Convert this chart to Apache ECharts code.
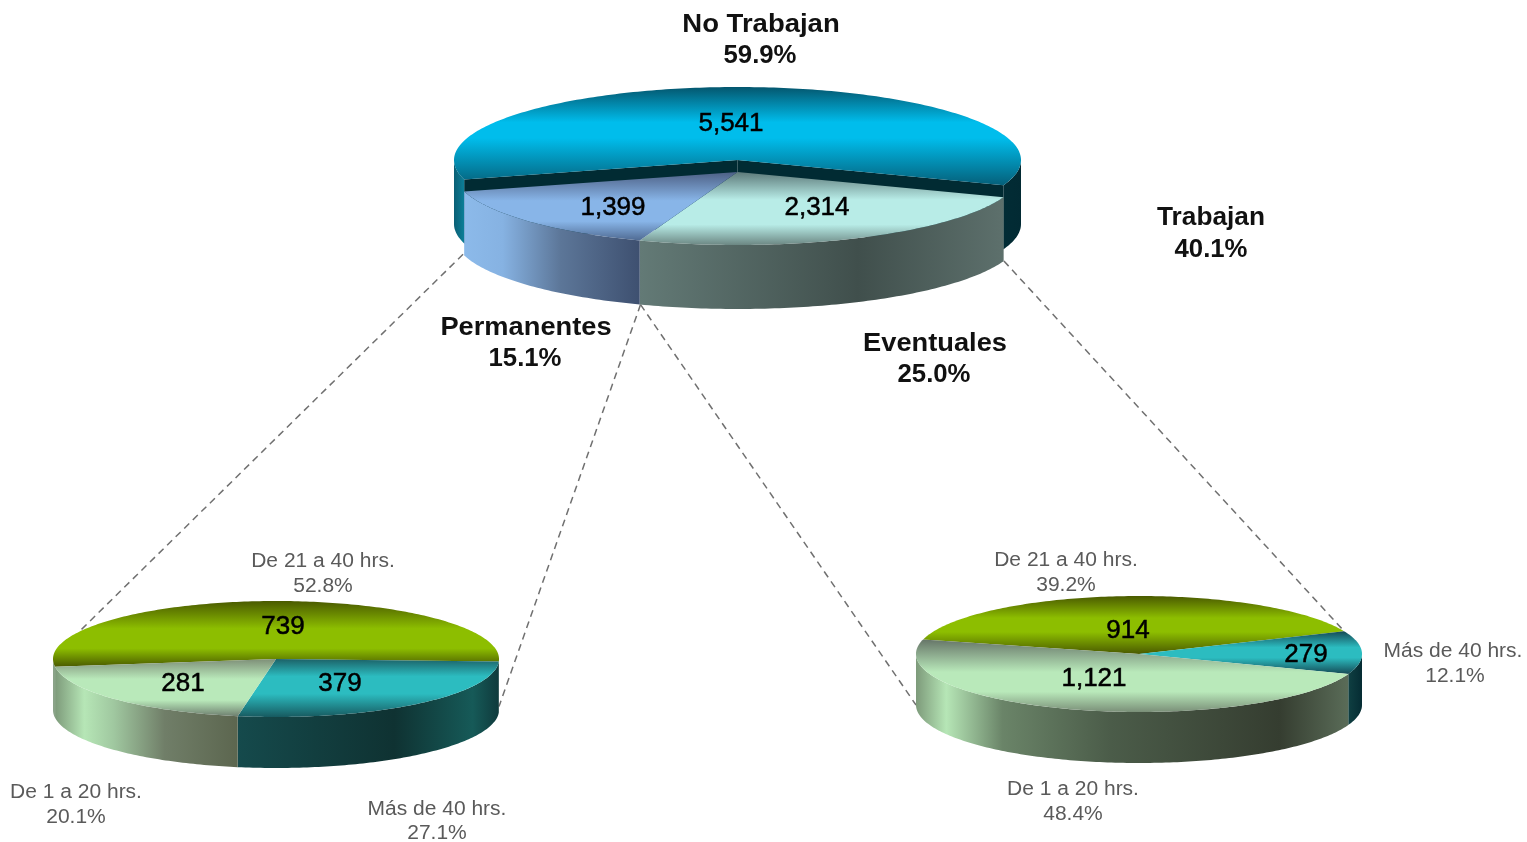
<!DOCTYPE html>
<html><head><meta charset="utf-8">
<style>html,body{margin:0;padding:0;background:#fff}#c{width:1527px;height:842px}</style>
<script src="https://cdn.jsdelivr.net/npm/echarts@6/dist/echarts.min.js"></script>
</head><body><div id="c"></div>
<script>
// ---- data ----
const mainCategories = ['No Trabajan', 'Eventuales', 'Permanentes'];
const mainValues = [5541, 2314, 1399];
const permCategories = ['De 21 a 40 hrs.', 'Más de 40 hrs.', 'De 1 a 20 hrs.'];
const permValues = [739, 379, 281];
const eventCategories = ['De 21 a 40 hrs.', 'Más de 40 hrs.', 'De 1 a 20 hrs.'];
const eventValues = [914, 279, 1121];
const percentTexts = ['59.9%', '40.1%', '15.1%', '25.0%', '52.8%', '20.1%', '27.1%', '39.2%', '12.1%', '48.4%'];
const headingTexts = ['No Trabajan', 'Trabajan', 'Permanentes', 'Eventuales', 'De 21 a 40 hrs.', 'De 1 a 20 hrs.', 'Más de 40 hrs.', 'De 21 a 40 hrs.', 'Más de 40 hrs.', 'De 1 a 20 hrs.'];

// ---- layout and style ----
const FONT = '"Liberation Sans", Arial, sans-serif';
const bevel = (d, m, e, a, b) => [[0, d], [a, m], [b, m], [1, e]];
const pieLayouts = [
  { cx: 737.5, cy: 172, rx: 283.5, ry: 73, depth: 64, start: 164.6,
    explode: [-12],
    valuePos: [[731, 124], [817, 208], [613, 208]],
    styles: [
      { top: bevel('#04566e', '#00bdec', '#05607a', .36, .52),
        walls: [[[0, '#0a5f75'], [1, '#0c7f98']], [[0, '#022c35'], [1, '#022a33']]], face: '#012b33' },
      { top: bevel('#5d7a7a', '#b8ece7', '#6c8783', .38, .72),
        wall: [[0, '#637a76'], [.6, '#404f4c'], [1, '#5d706c']] },
      { top: bevel('#4d6085', '#88b5e8', '#4f6a92', .42, .72),
        wall: [[0, '#8cbaea'], [.22, '#86b2e2'], [.55, '#5c7698'], [1, '#3e5070']] }
    ] },
  { cx: 276, cy: 659, rx: 223, ry: 58, depth: 51, start: 172.2,
    valuePos: [[283, 627], [340, 684], [183, 684]],
    styles: [
      { top: bevel('#4a5a00', '#8dbe00', '#4a5a00', .42, .72), wall: [[0, '#8aa388'], [1, '#8aa388']] },
      { top: bevel('#1c6268', '#2cbcc0', '#175a60', .3, .6),
        wall: [[0, '#154a4c'], [.6, '#0f3232'], [.9, '#165a58'], [1, '#0f3a3c']] },
      { top: bevel('#7e8f78', '#b9e9ba', '#6f8070', .35, .72),
        wall: [[0, '#7d9a7a'], [.16, '#b6e6b6'], [.32, '#a0c8a0'], [.6, '#707e68'], [1, '#5c664f']] }
    ] },
  { cx: 1139, cy: 654, rx: 223, ry: 58, depth: 51, start: 194.6,
    valuePos: [[1128, 631], [1306, 655], [1094, 679]],
    styles: [
      { top: bevel('#4a5a00', '#8dbe00', '#4a5a00', .38, .62), wall: [[0, '#4a5a00'], [1, '#4a5a00']] },
      { top: bevel('#154a55', '#2cbcc0', '#154a55', .38, .62), wall: [[0, '#0f3f42'], [1, '#052c33']] },
      { top: bevel('#667568', '#b9e9ba', '#7a8f78', .45, .72),
        wall: [[0, '#7d9a7a'], [.07, '#b6e6b6'], [.2, '#6a8468'], [.45, '#4b5c49'], [.84, '#353d30'], [1, '#5a6c58']] }
    ] }
];
const numberFont = { fontSize: 26, fontFamily: FONT, fontWeight: 'normal' };
const labelLayouts = [
  { p: [761, 25], q: [760, 56], bold: 1, sx: 1.1 }, { p: [1211, 218], q: [1211, 250], bold: 1, sx: 1.05 },
  { p: [526, 328], q: [525, 359], bold: 1, sx: 1.09 }, { p: [935, 344], q: [934, 375], bold: 1, sx: 1.09 },
  { p: [323, 561], q: [323, 586] }, { p: [76, 792], q: [76, 817] }, { p: [437, 809], q: [437, 833] },
  { p: [1066, 560], q: [1066, 585] }, { p: [1453, 651], q: [1455, 676] }, { p: [1073, 789], q: [1073, 814] }
];
// connector: from [pie, angle, depth] to [pie, angle, depth]
const connectors = [
  [[0, 165.5, 1], [1, 208, 0]],
  [[0, 110, 1], [1, 0, .93]],
  [[0, 110, 1], [2, 180, 1]],
  [[0, 20, 1], [2, 337, 0]]
];

const rad = d => d * Math.PI / 180;
function pt(L, a, depthPx, dy) {
  return [L.cx + L.rx * Math.cos(rad(a)), L.cy + (dy || 0) + depthPx + L.ry * Math.sin(rad(a))];
}
function arc(L, a1, a2, depthPx, dy) {
  const out = [], n = Math.max(2, Math.ceil(Math.abs(a2 - a1)));
  for (let i = 0; i <= n; i++) out.push(pt(L, a1 + (a2 - a1) * i / n, depthPx, dy));
  return out;
}
const stopsOf = a => a.map(t => ({ offset: t[0], color: t[1] }));
function renderPie(idx, values) {
  const L = pieLayouts[idx];
  const total = values.reduce((a, b) => a + b, 0);
  return function (params, api) {
    const i = params.dataIndex;
    let a1 = L.start;
    for (let k = 0; k < i; k++) a1 += values[k] / total * 360;
    const a2 = a1 + values[i] / total * 360;
    const S = L.styles[i];
    const dy = (L.explode && L.explode[i]) || 0;
    const toPx = pts => pts.map(p => api.coord(p));
    const ch = [];
    if (S.face) {
      const c0 = [L.cx, L.cy + dy], c1 = [L.cx, L.cy + dy + L.depth];
      [a1, a2].forEach(a => ch.push({ type: 'polygon',
        shape: { points: toPx([c0, c1, pt(L, a, L.depth, dy), pt(L, a, 0, dy)]) },
        style: { fill: S.face } }));
    }
    let w = 0;
    [[0, 180], [360, 540]].forEach(([lo, hi]) => {
      const s = Math.max(a1, lo), e = Math.min(a2, hi);
      if (e > s) {
        const stops = S.walls ? S.walls[w++] : S.wall;
        const pts = arc(L, s, e, 0, dy).concat(arc(L, e, s, L.depth, dy));
        ch.push({ type: 'polygon', shape: { points: toPx(pts) },
          style: { fill: new echarts.graphic.LinearGradient(0, 0, 1, 0, stopsOf(stops)) } });
      }
    });
    const c = [L.cx, L.cy + dy];
    ch.push({ type: 'polygon', shape: { points: toPx([c].concat(arc(L, a1, a2, 0, dy))) },
      style: { fill: new echarts.graphic.LinearGradient(0, 0, 0, 1, stopsOf(S.top)) } });
    return { type: 'group', children: ch };
  };
}

function pieSeries(idx, cats, values) {
  return { type: 'custom', coordinateSystem: 'cartesian2d', clip: false, silent: true, z: 3,
    data: cats.map((n, i) => ({ name: n, value: [0, 0, values[i]] })),
    encode: { x: 0, y: 1 },
    renderItem: renderPie(idx, values) };
}
const fmt = v => v.toLocaleString('en-US');
function valueSeries(idx, values) {
  const L = pieLayouts[idx];
  return { type: 'custom', coordinateSystem: 'cartesian2d', clip: false, silent: true, z: 5,
    data: values.map(v => ({ value: [0, 0, v] })), encode: { x: 0, y: 1 },
    renderItem(params, api) {
      const p = api.coord(L.valuePos[params.dataIndex]);
      return { type: 'text', x: p[0], y: p[1], style: Object.assign({
        text: fmt(values[params.dataIndex]), align: 'center', verticalAlign: 'middle',
        fill: '#000', stroke: '#000', lineWidth: .5 }, numberFont) };
    } };
}
const connectorSeries = { type: 'custom', coordinateSystem: 'cartesian2d', clip: false, silent: true, z: 2,
  data: connectors.map(() => ({ value: [0, 0] })), encode: { x: 0, y: 1 },
  renderItem(params, api) {
    const [f, t] = connectors[params.dataIndex];
    const Lf = pieLayouts[f[0]], Lt = pieLayouts[t[0]];
    const a = api.coord(pt(Lf, f[1], f[2] * Lf.depth)), b = api.coord(pt(Lt, t[1], t[2] * Lt.depth));
    return { type: 'line', shape: { x1: a[0], y1: a[1], x2: b[0], y2: b[1] },
      style: { stroke: '#707070', lineWidth: 1.5, lineDash: [7, 5] } };
  } };
const labelSeries = { type: 'custom', coordinateSystem: 'cartesian2d', clip: false, silent: true, z: 6,
  data: headingTexts.map(() => ({ value: [0, 0] })), encode: { x: 0, y: 1 },
  renderItem(params, api) {
    const i = params.dataIndex, L = labelLayouts[i];
    const mk = (text, pos, sx) => {
      const p = api.coord(pos);
      return { type: 'text', x: p[0], y: p[1], scaleX: sx || 1, style: {
        text, align: 'center', verticalAlign: 'middle', fontFamily: FONT,
        fontSize: L.bold ? 25 : 20, fontWeight: L.bold ? 'bold' : 'normal',
        fill: L.bold ? '#111' : '#5a5a5a' } };
    };
    return { type: 'group', children: [
      mk(headingTexts[i], L.p, L.bold ? L.sx : 1.05),
      mk(percentTexts[i], L.q, L.bold ? 1.03 : 1.05)] };
  } };

const chart = echarts.init(document.getElementById('c'), null, { renderer: 'canvas' });
chart.setOption({
  animation: false,
  backgroundColor: '#fff',
  grid: { left: 0, right: 0, top: 0, bottom: 0 },
  xAxis: { type: 'value', min: 0, max: 1527, show: false },
  yAxis: { type: 'value', min: 0, max: 842, inverse: true, show: false },
  series: [
    connectorSeries,
    pieSeries(0, mainCategories, mainValues),
    pieSeries(1, permCategories, permValues),
    pieSeries(2, eventCategories, eventValues),
    valueSeries(0, mainValues),
    valueSeries(1, permValues),
    valueSeries(2, eventValues),
    labelSeries
  ]
});
</script></body></html>
